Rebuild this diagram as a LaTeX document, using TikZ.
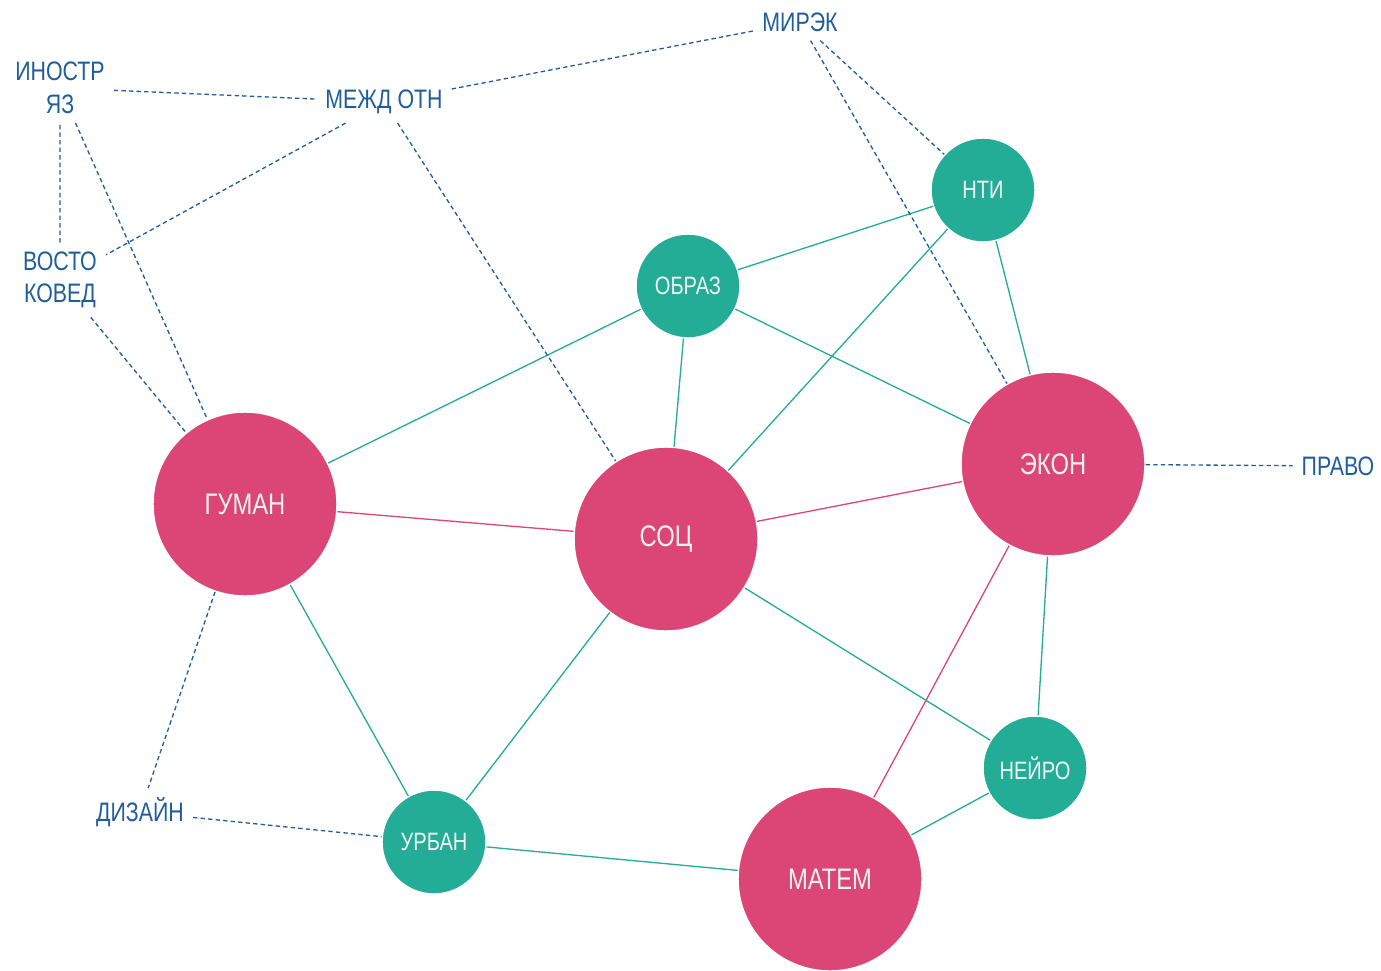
\documentclass[tikz,border=0pt]{standalone}
\usepackage{fontspec}
\setmainfont{Liberation Sans}[FakeStretch=0.8]
\definecolor{pinkc}{HTML}{DC4677}
\definecolor{tealc}{HTML}{23AC96}
\definecolor{bluec}{HTML}{1F5E9C}

\begin{document}
\begin{tikzpicture}[
                x=0.02cm, y=-0.02cm,
                big/.style={circle, fill=pinkc, draw=white, line width=0.8pt, minimum size=3.68cm, inner sep=0pt, text=white!95!black, font=\fontsize{16.9}{19}\selectfont},
                small/.style={circle, fill=tealc, draw=white, line width=0.8pt, minimum size=2.08cm, inner sep=0pt, text=white!95!black, font=\fontsize{14.3}{17}\selectfont},
                field/.style={text=bluec, align=center, inner sep=5pt, font=\fontsize{15.2}{18.5}\selectfont},
                tie/.style={tealc, line width=0.75pt},
                strong/.style={pinkc, line width=0.75pt},
                loose/.style={bluec, line width=0.75pt, dash pattern=on 2.5pt off 1.8pt}
            ]
                \useasboundingbox (0, 0) rectangle (1381, 970);

                % main fields
                \node[big] (guman) at (245, 504) {ГУМАН};
                \node[big] (sots) at (666, 539) {СОЦ};
                \node[big] (ekon) at (1053, 464) {ЭКОН};
                \node[big] (matem) at (830, 879) {МАТЕМ};

                \foreach \sym/\x/\y/\txt in {obraz/688/286/ОБРАЗ, nti/983/190/НТИ, neiro/1035/768/НЕЙРО, urban/434/842/УРБАН} {
                    \node[small] (\sym) at (\x, \y) {\txt};
                }

                % outer fields
                \node[field] (inostr) at (60, 88) {ИНОСТР\\ЯЗ};
                \node[field] (mezhd) at (384, 102) {МЕЖД ОТН};
                \node[field] (mirek) at (800, 22) {МИРЭК};
                \node[field] (vostok) at (60, 280) {ВОСТО\\КОВЕД};
                \node[field] (pravo) at (1338, 466) {ПРАВО};
                \node[field] (dizain) at (140, 812) {ДИЗАЙН};

                \draw[strong] (guman) -- (sots) -- (ekon) -- (matem);
                \draw[tie] (urban) -- (guman) -- (obraz) -- (nti) -- (ekon) -- (neiro) -- (matem) -- (urban) -- (sots) -- (neiro);
                \draw[tie] (obraz) -- (sots) -- (nti);
                \draw[tie] (obraz) -- (ekon);

                \draw[loose] (inostr) -- (mezhd) -- (mirek) -- (nti);
                \draw[loose] (mirek) -- (ekon) -- (pravo);
                \draw[loose] (vostok) -- (inostr) -- (guman) -- (dizain) -- (urban);
                \draw[loose] (mezhd) -- (vostok) -- (guman);
                \draw[loose] (mezhd) -- (sots);
            \end{tikzpicture}
\end{document}
